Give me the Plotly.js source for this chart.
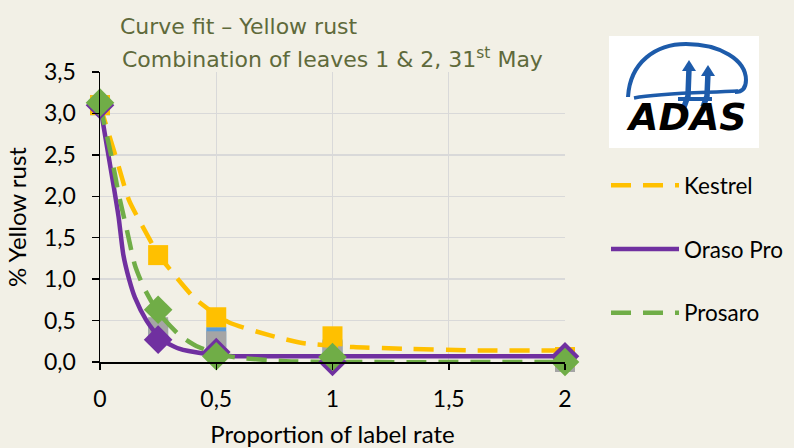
<!DOCTYPE html>
<html>
<head>
<meta charset="utf-8">
<script src="https://cdn.plot.ly/plotly-3.0.1.min.js"></script>
<style>html,body{margin:0;padding:0;background:#F2F0E6;}</style>
</head>
<body>
<div id="chart" style="width:794px;height:448px;"></div>
<script>
// ---- Data ----
const rates = [0, 0.25, 0.5, 1, 2];
const kestrelObs = [3.1, 1.29, 0.54, 0.31, 0.06];
const grayObs = [3.1, 0.42, 0.25, 0.13, 0.0];
const blueObs = [3.1, 0.4, 0.3, 0.15, -0.01];
const orasoObs = [3.1, 0.27, 0.12, 0.0, 0.07];
const prosaroObs = [3.13, 0.63, 0.07, 0.06, 0.0];

const kestrelFitX = [0, 0.073, 0.125, 0.19, 0.25, 0.3, 0.41, 0.5, 0.56, 0.72, 0.87, 1.09, 1.31, 1.6, 2];
const kestrelFitY = [3.1, 2.43, 1.95, 1.6, 1.3, 1.12, 0.76, 0.57, 0.47, 0.33, 0.23, 0.18, 0.16, 0.14, 0.14];
const orasoFitX = [0, 0.03, 0.06, 0.08, 0.1, 0.125, 0.15, 0.2, 0.26, 0.34, 0.45, 0.57, 0.8, 1.2, 2];
const orasoFitY = [3.1, 2.6, 2.1, 1.75, 1.3, 1.0, 0.78, 0.5, 0.28, 0.16, 0.1, 0.07, 0.07, 0.07, 0.07];
const prosaroFitX = [0, 0.05, 0.08, 0.115, 0.15, 0.19, 0.25, 0.34, 0.41, 0.5, 0.6, 0.8, 1, 2];
const prosaroFitY = [3.1, 2.47, 2.03, 1.6, 1.17, 0.89, 0.6, 0.33, 0.2, 0.1, 0.05, 0.01, 0, 0];

const seriesNames = ['Kestrel', 'Oraso Pro', 'Prosaro'];
const titleLine1 = 'Curve fit – Yellow rust';
const titleLine2 = 'Combination of leaves 1 &amp; 2, 31<sup>st</sup> May';
const xTitle = 'Proportion of label rate';
const yTitle = '% Yellow rust';

// ---- Styling ----
const C = {yellow:'#FFC000', purple:'#7030A0', green:'#70AD47', gray:'#A5A5A5', blue:'#5B9BD5'};
const bg = '#F2F0E6';
const dashPat = '20px,12px';
const titleFont = {family:'DejaVu Sans', size:22, color:'#5F6A3B'};
const axFont = 'Lato';

function markerTrace(y, color, symbol, size) {
  return {x: rates, y: y, type:'scatter', mode:'markers', showlegend:false, cliponaxis:false,
    hoverinfo:'skip', marker:{color:color, symbol:symbol, size:size, line:{width:0}}};
}
function lineTrace(x, y, name, color, dash) {
  return {x: x, y: y, type:'scatter', mode:'lines', name:name, legendgroup:name,
    line:{color:color, width:4.5, dash:dash, shape:'spline', smoothing:0.6}};
}

const traces = [
  markerTrace(blueObs, C.blue, 'square', 20),
  markerTrace(grayObs, C.gray, 'square', 20),
  markerTrace(kestrelObs, C.yellow, 'square', 20),
  lineTrace(kestrelFitX, kestrelFitY, seriesNames[0], C.yellow, dashPat),
  lineTrace(orasoFitX, orasoFitY, seriesNames[1], C.purple, 'solid'),
  lineTrace(prosaroFitX, prosaroFitY, seriesNames[2], C.green, dashPat),
  markerTrace(orasoObs, C.purple, 'diamond', 22),
  markerTrace(prosaroObs, C.green, 'diamond', 22)
];

// pixel -> paper helpers for decorations
const L = 100, R = 565, T = 72, B = 362;
const X = px => (px - L) / (R - L);
const Y = py => (B - py) / (B - T);
function P(pts) { return pts.map((p, i) => (i ? 'L' : 'M') + X(p[0]).toFixed(4) + ',' + Y(p[1]).toFixed(4)).join(' '); }
function Q(cmds) {
  return cmds.map(c => c[0] + c.slice(1).reduce((s, v, i) => s + (i ? (i % 2 ? ',' : ' ') : '') + (i % 2 ? Y(v) : X(v)).toFixed(4), '')).join(' ');
}
const logoBlue = '#1D5BAA';
const shapes = [
  {type:'rect', xref:'paper', yref:'paper', x0:X(609), x1:X(759), y0:Y(148), y1:Y(36), fillcolor:'#FFFFFF', line:{width:0}, layer:'above'},
  {type:'path', xref:'paper', yref:'paper', layer:'above', line:{color:logoBlue, width:4},
   path: Q([['M',628,97],['C',630,62,656,44,686,44],['C',720,44,746,60,746,80],['C',746,89,741,92,735,92]])},
  {type:'path', xref:'paper', yref:'paper', layer:'above', line:{color:logoBlue, width:3.5},
   path: Q([['M',634,98],['C',660,93,700,93,738,91]])},
  {type:'path', xref:'paper', yref:'paper', layer:'above', line:{color:logoBlue, width:5.5},
   path: P([[689,68],[688,96],[684,107]])},
  {type:'path', xref:'paper', yref:'paper', layer:'above', line:{color:logoBlue, width:5.5},
   path: P([[708,73],[707,96],[703,107]])},
  {type:'path', xref:'paper', yref:'paper', layer:'above', line:{color:logoBlue, width:4},
   path: P([[678,99],[712,99]])},
  {type:'path', xref:'paper', yref:'paper', layer:'above', line:{width:0}, fillcolor:logoBlue,
   path: P([[689,60],[682,71],[696,71]]) + ' Z'},
  {type:'path', xref:'paper', yref:'paper', layer:'above', line:{width:0}, fillcolor:logoBlue,
   path: P([[708,65],[701,76],[715,76]]) + ' Z'}
];

const annotations = [
  {text: titleLine2, xref:'paper', yref:'paper', x:X(120), y:Y(58), xanchor:'left', yanchor:'middle',
   showarrow:false, font:titleFont},
  {text:'<b><i>ADAS</i></b>', xref:'paper', yref:'paper', x:X(686), y:Y(117), xanchor:'center', yanchor:'middle',
   showarrow:false, font:{family:'DejaVu Sans', size:38, color:'#000000'}}
];

const layout = {
  width:794, height:448,
  margin:{l:L, r:794 - R, t:T, b:448 - B, pad:0, autoexpand:false},
  paper_bgcolor:bg, plot_bgcolor:bg,
  separators:', ',
  font:{family:axFont, color:'#000000'},
  title:{text:titleLine1, font:titleFont,
    xref:'paper', x:X(120), xanchor:'left', yref:'container', y:1 - 26/448, yanchor:'middle'},
  xaxis:{range:[0, 2], dtick:0.5, tick0:0, showgrid:true, gridcolor:'#D9D9D9', gridwidth:1.3,
    showline:true, linecolor:'#000000', linewidth:1.5, ticks:'outside', ticklen:6, tickcolor:'#000000', tickwidth:1.5,
    tickfont:{family:axFont, size:23, color:'#000000'}, ticklabelstandoff:10, zeroline:false,
    title:{text:xTitle, font:{family:axFont, size:24, color:'#000000'}, standoff:15}, automargin:false},
  yaxis:{range:[0, 3.5], dtick:0.5, tick0:0, tickformat:'.1f', showgrid:true, gridcolor:'#D9D9D9', gridwidth:1.3,
    showline:true, linecolor:'#000000', linewidth:1.5, ticks:'outside', ticklen:7, tickcolor:'#000000', tickwidth:1.5,
    tickfont:{family:axFont, size:23, color:'#000000'}, ticklabelstandoff:11, zeroline:false,
    title:{text:yTitle, font:{family:axFont, size:24, color:'#000000'}, standoff:10}, automargin:false},
  legend:{x:X(606), xanchor:'left', y:Y(164), yanchor:'top', bgcolor:'rgba(0,0,0,0)',
    font:{family:axFont, size:22.5, color:'#000000'}, tracegroupgap:31.5, itemwidth:68},
  shapes:shapes,
  annotations:annotations
};

Plotly.newPlot('chart', traces, layout, {displayModeBar:false, staticPlot:true});
</script>
</body>
</html>
